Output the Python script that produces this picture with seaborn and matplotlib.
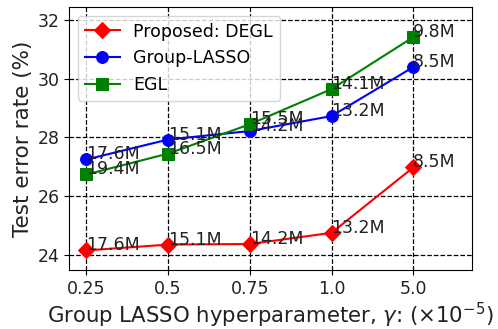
import matplotlib
matplotlib.use("Agg")
import matplotlib.pyplot as plt
import seaborn as sns
import pandas as pd

gamma_labels = ["0.25", "0.5", "0.75", "1.0", "5.0"]

degl_err = [24.15, 24.35, 24.37, 24.75, 26.98]
glasso_err = [27.25, 27.93, 28.22, 28.73, 30.4]
egl_err = [26.74, 27.45, 28.45, 29.65, 31.42]

degl_params = ["17.6M", "15.1M", "14.2M", "13.2M", "8.5M"]
glasso_params = ["17.6M", "15.1M", "14.2M", "13.2M", "8.5M"]
egl_params = ["19.4M", "16.5M", "15.5M", "14.1M", "9.8M"]

series = [
    ("Proposed: DEGL", degl_err, degl_params, "red", "D"),
    ("Group-LASSO", glasso_err, glasso_params, "blue", "o"),
    ("EGL", egl_err, egl_params, "green", "s"),
]

fig = plt.figure(figsize=(4.98, 3.29), dpi=100)
ax = fig.add_axes([0.139, 0.179, 0.809, 0.800])

pos = list(range(len(gamma_labels)))
for name, vals, params, color, marker in series:
    df = pd.DataFrame({"x": pos, "y": vals})
    sns.lineplot(data=df, x="x", y="y", ax=ax, color=color, marker=marker,
                 markersize=8.5, markeredgecolor=color, linewidth=1.5,
                 label=name, zorder=3)
    for xi, yi, txt in zip(pos, vals, params):
        ax.text(xi, yi, txt, fontsize=12.5, color="#222222",
                ha="left", va="baseline", zorder=4)

ax.set_xticks(pos)
ax.set_xticklabels(gamma_labels)
ax.set_yticks([24, 26, 28, 30, 32])
ax.set_xlim(-0.21, 4.72)
ax.set_ylim(23.48, 32.45)
ax.tick_params(labelsize=12.5, labelcolor="#222222")
ax.grid(True, linestyle="--", color="black", linewidth=0.9)
ax.set_axisbelow(True)
ax.set_xlabel(r"Group LASSO hyperparameter, $\gamma$: ($\times 10^{-5}$)",
              fontsize=15.3, color="#222222", labelpad=2)
ax.set_ylabel("Test error rate (%)", fontsize=15.5, color="#222222", labelpad=3)
ax.legend(loc="upper left", fontsize=12.5)

fig.savefig("out.png", dpi=100)
